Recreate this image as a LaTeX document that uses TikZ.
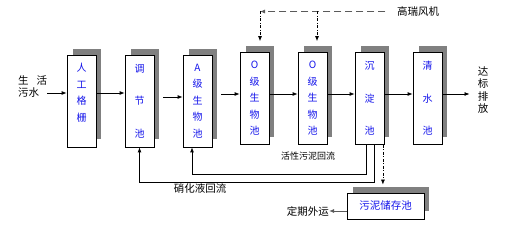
\documentclass[tikz,border=0pt]{standalone}
\usepackage{fontspec}
\newfontfamily\cjk{Noto Sans CJK SC}
\usepackage{tikz}
\usetikzlibrary{arrows.meta,backgrounds,calc}
\definecolor{shadowgray}{RGB}{128,128,128}
\definecolor{linegray}{RGB}{90,90,90}
\definecolor{poolblue}{RGB}{20,20,235}

\begin{document}
\begin{tikzpicture}[x=1pt, y=-1pt, >={Latex[length=5pt,width=4pt]},
    pool/.style={draw, line width=0.8pt, fill=white, minimum width=29pt, minimum height=92pt,
      inner sep=0pt, align=center, text=poolblue, font=\cjk\fontsize{10}{16.5}\selectfont},
    flow/.style={->, line width=0.8pt},
    air/.style={linegray, line width=0.8pt, dash pattern=on 7pt off 4pt},
    airdrop/.style={->, line width=0.7pt, dash pattern=on 3pt off 1.5pt on 1pt off 1.5pt},
    note/.style={font=\cjk\fontsize{10.5}{12}\selectfont}]
    \useasboundingbox (0,0) rectangle (513,240);
    \node (sewage) at (18,86.5) [note, anchor=west, inner sep=0pt, align=left] {生\hspace{0.75em}活\\污水};
    \node (b1) at (81.5,101) [pool] {人\\工\\格\\栅\\\phantom{栅}};
    \node (b2) at (139.5,101) [pool] {调\\[16pt]节\\[16pt]池};
    \node (b3) at (197.5,101) [pool] {A\\级\\生\\物\\池};
    \node (b4) at (254.5,98.5) [pool] {O\\级\\生\\物\\池};
    \node (b5) at (312.5,98.5) [pool] {O\\级\\生\\物\\池};
    \node (b6) at (369.5,98.5) [pool] {沉\\[16pt]淀\\[16pt]池};
    \node (b7) at (427.5,98.5) [pool] {清\\[16pt]水\\[16pt]池};
    \node (sludge) at (385.5,206) [pool, minimum width=77pt, minimum height=26pt,
      font=\cjk\fontsize{10.5}{12}\selectfont] {污泥储存池};
    \node (out) at (483,90) [inner xsep=8pt, align=center, font=\cjk\fontsize{10.5}{12.3}\selectfont] {达\\标\\排\\放};
    \node (blower) at (418,11.5) [note] {高瑞风机};
    \node (haul) at (329,211) [note, anchor=east, inner sep=0pt] {定期外运};
    \node (sludgeret) at (308,156) [font=\cjk\fontsize{9}{10}\selectfont] {活性污泥回流};
    \node (nitret) at (200,188) [note] {硝化液回流};
    \begin{scope}[on background layer]
      \foreach \n in {b1,b2,b3,b4,b5,b6,b7,sludge}
        \fill[shadowgray] ($(\n.north west)+(6.5,-6)$) rectangle ($(\n.south east)+(4.5,-8)$);
    \end{scope}
    \draw[flow] ([yshift=-6.5pt]sewage.east) -- ([yshift=8pt]b1.west);
    \draw[flow] ([yshift=8pt]b1.east) -- ([yshift=8pt]b2.west);
    \draw[flow] ([xshift=9pt,yshift=4pt]b2.east) -- ([yshift=4pt]b3.west);
    \draw[flow] ([xshift=9pt,yshift=7pt]b3.east) -- ([yshift=4.5pt]b4.west);
    \draw[flow] ([yshift=4.5pt]b4.east) -- ([yshift=4.5pt]b5.west);
    \draw[flow] ([yshift=4.5pt]b5.east) -- ([yshift=4.5pt]b6.west);
    \draw[flow] ([yshift=4.5pt]b6.east) -- ([yshift=4.5pt]b7.west);
    \coordinate (outtip) at (b7.east -| out.west);
    \draw[flow] ([yshift=4.5pt]b7.east) -- ([yshift=4.5pt]outtip);
    \coordinate (air4) at ([xshift=5.5pt,yshift=11pt]b4.north);
    \coordinate (air5) at ([xshift=4.5pt,yshift=11pt]b5.north);
    \coordinate (turn4) at (air4 |- blower.west);
    \coordinate (turn5) at (air5 |- blower.west);
    \draw[air,->] ([xshift=-8pt]blower.west) -- (turn4);
    \draw[airdrop] (turn4) -- (air4);
    \draw[airdrop] (turn5) -- (air5);
    \draw[flow] ([xshift=-3.5pt]b6.south) -- ++(0,29) -| ([xshift=-5.5pt]b3.south);
    \draw[flow] ([xshift=4.5pt]b6.south) -- ++(0,37) -| (b2.south);
    \coordinate (droptop) at ([xshift=-1.5pt]b6.south east);
    \coordinate (dropend) at (droptop |- sludge.north);
    \draw[airdrop] (droptop) -- ([yshift=8pt]dropend);
    \draw[->, linegray, line width=1pt] ([yshift=-5pt]sludge.west) -- (haul.east);
  \end{tikzpicture}
\end{document}
